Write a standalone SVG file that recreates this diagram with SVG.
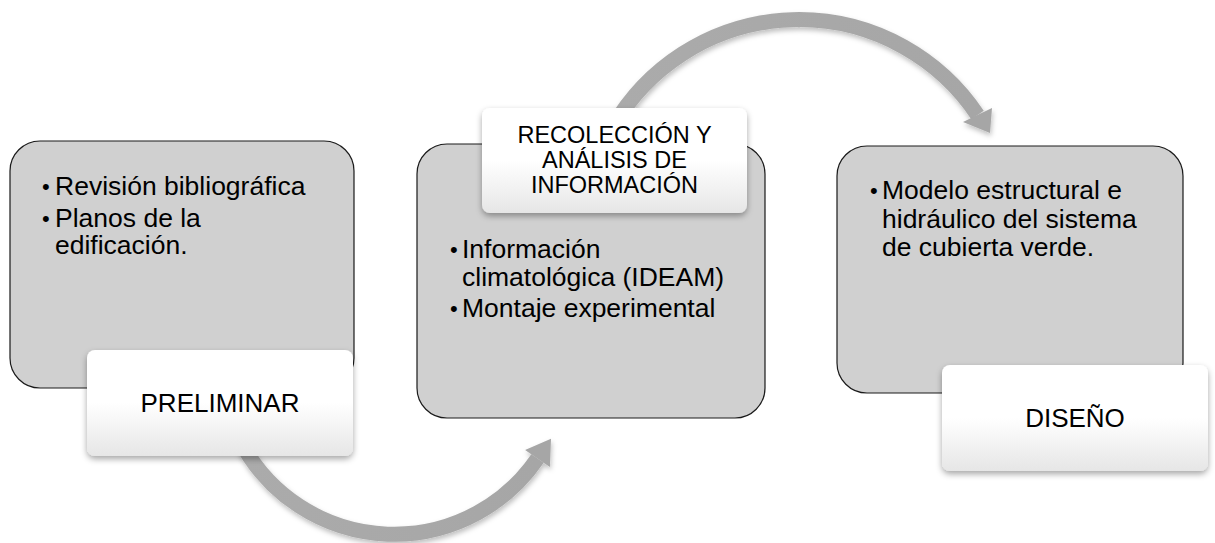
<svg xmlns="http://www.w3.org/2000/svg" width="1215" height="543" viewBox="0 0 1215 543">
<style>
.box{fill:#d0d0d0;stroke:#1a1a1a;stroke-width:1.2}
.lbl{fill:url(#lg)}
.t{font-family:"Liberation Sans",Arial,sans-serif;fill:#000}
.bt{font-size:26.5px}
.bl{font-size:22px}
.lt{font-size:26px;text-anchor:middle}
.lt2{font-size:23.5px;text-anchor:middle}
.shaft{fill:none;stroke:url(#ag);stroke-width:15}
.head{fill:#a6a6a6}
</style>
<defs>
<linearGradient id="lg" x1="0" y1="0" x2="0" y2="1">
<stop offset="0" stop-color="#ffffff"/>
<stop offset="0.5" stop-color="#ffffff"/>
<stop offset="1" stop-color="#e6e6e6"/>
</linearGradient>
<linearGradient id="ag" x1="0" y1="0" x2="1" y2="0">
<stop offset="0" stop-color="#ababab"/>
<stop offset="1" stop-color="#a6a6a6"/>
</linearGradient>
<filter id="sh" x="-20%" y="-20%" width="140%" height="150%">
<feDropShadow dx="0" dy="3" stdDeviation="3" flood-color="#000" flood-opacity="0.35"/>
</filter>
<filter id="ash" x="-20%" y="-20%" width="140%" height="150%">
<feDropShadow dx="1" dy="3" stdDeviation="2.5" flood-color="#000" flood-opacity="0.25"/>
</filter>
</defs>
<g id="connectors" filter="url(#ash)">
<path class="shaft" d="M243.7,447.2 A173.5,173.5 0 0 0 537.5,458.5"/>
<polygon class="head" points="551,438.7 549.9,466.9 525.1,450.1"/>
<path class="shaft" d="M613,126.5 A215,215 0 0 1 977.5,115"/>
<polygon class="head" points="990,133 963,122 992,108"/>
</g>
<g id="node-preliminar">
<rect class="box" x="10" y="141" width="344" height="247" rx="30"/>
<text class="t bl" x="42" y="194">•</text>
<text class="t bt" x="55" y="195">Revisión bibliográfica</text>
<text class="t bl" x="42" y="226">•</text>
<text class="t bt" x="55" y="227">Planos de la</text>
<text class="t bt" x="55" y="254">edificación.</text>
<rect class="lbl" x="87" y="350" width="266" height="106" rx="8" filter="url(#sh)"/>
<text class="t lt" x="220" y="412">PRELIMINAR</text>
</g>
<g id="node-recoleccion">
<rect class="box" x="417" y="144" width="348" height="274" rx="30"/>
<text class="t bl" x="450" y="257">•</text>
<text class="t bt" x="462" y="258">Información</text>
<text class="t bt" x="462" y="286">climatológica (IDEAM)</text>
<text class="t bl" x="450" y="316">•</text>
<text class="t bt" x="462" y="317">Montaje experimental</text>
<rect class="lbl" x="482" y="108" width="265" height="105" rx="8" filter="url(#sh)"/>
<text class="t lt2" x="614.5" y="143">RECOLECCIÓN Y</text>
<text class="t lt2" x="614.5" y="167.5">ANÁLISIS DE</text>
<text class="t lt2" x="614.5" y="192.5">INFORMACIÓN</text>
</g>
<g id="node-diseno">
<rect class="box" x="837" y="146" width="346" height="247" rx="30"/>
<text class="t bl" x="870" y="198">•</text>
<text class="t bt" x="882" y="199">Modelo estructural e</text>
<text class="t bt" x="882" y="228">hidráulico del sistema</text>
<text class="t bt" x="882" y="256">de cubierta verde.</text>
<rect class="lbl" x="942" y="365" width="266" height="106" rx="8" filter="url(#sh)"/>
<text class="t lt" x="1075" y="427">DISEÑO</text>
</g>
</svg>
